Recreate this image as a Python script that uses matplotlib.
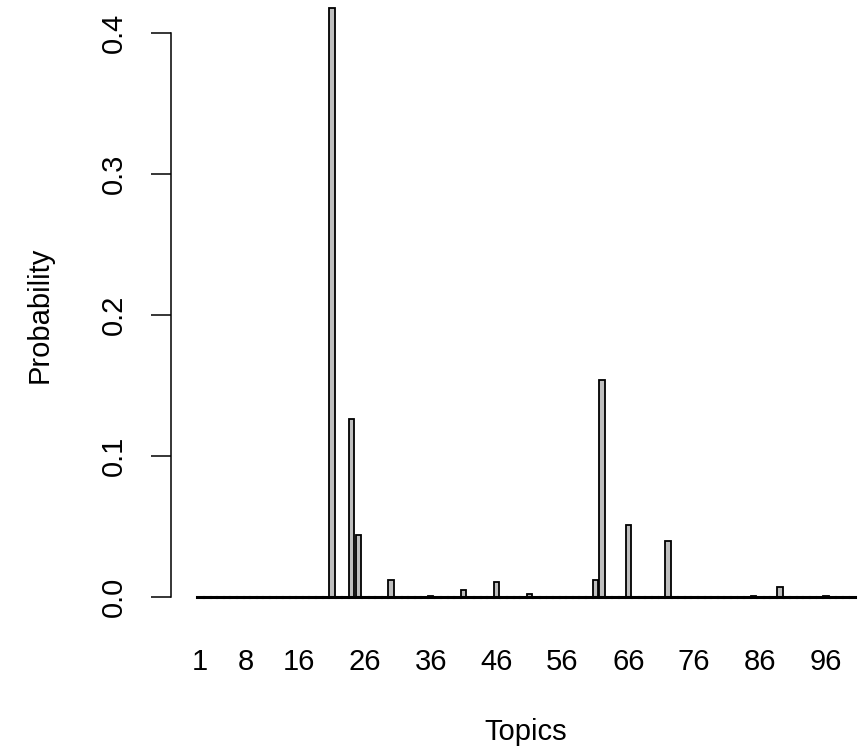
import matplotlib
matplotlib.use("Agg")
import matplotlib.pyplot as plt
import numpy as np

plt.rcParams['font.family'] = ['Liberation Sans', 'DejaVu Sans']

# topic probabilities (topics not listed are ~0)
n_topics = 100
peak_topics = [21, 24, 25, 30, 36, 41, 46, 51, 61, 62, 66, 72, 85, 89, 96]
peak_values = [0.418, 0.126, 0.044, 0.012, 0.001, 0.005, 0.011, 0.002,
               0.012, 0.154, 0.051, 0.040, 0.001, 0.007, 0.001]
shown_labels = [1, 8, 16, 26, 36, 46, 56, 66, 76, 86, 96]

probs = np.zeros(n_topics)
for t, v in zip(peak_topics, peak_values):
    probs[t - 1] = v

# R barplot geometry: width 1, space 0.2
topics = np.arange(1, n_topics + 1)
centers = 1.2 * topics - 0.5

W, H = 861, 753
fig = plt.figure(figsize=(W / 100, H / 100), dpi=100)

# plot region in pixels (R extends the range by 4% each side; image is cropped)
left_px, right_px = 171.2, 881.3
bottom_px, top_px = 620.6, -16.0
ax = fig.add_axes([left_px / W, (H - bottom_px) / H,
                   (right_px - left_px) / W, (bottom_px - top_px) / H])

ax.bar(centers, probs, width=1.0, color='#BEBEBE', edgecolor='black',
       linewidth=1.3)
# near-zero bars show up as a flat outline along the base
base = ax.hlines(np.zeros(n_topics), centers - 0.5, centers + 0.5,
                 color='black', linewidth=2.2, zorder=3)
base.set_capstyle('projecting')

xr = (0.2, 120.0)
dx = 0.04 * (xr[1] - xr[0])
ax.set_xlim(xr[0] - dx, xr[1] + dx)
ymax = probs.max()
ax.set_ylim(-0.04 * ymax, ymax * 1.04)

for s in ['top', 'right', 'bottom']:
    ax.spines[s].set_visible(False)
ax.spines['left'].set_bounds(0, 0.4)
ax.spines['left'].set_linewidth(1.1)

ax.set_yticks([0.0, 0.1, 0.2, 0.3, 0.4])
ax.set_yticklabels(['0.0', '0.1', '0.2', '0.3', '0.4'], rotation=90,
                   va='center', fontsize=21)
ax.tick_params(axis='y', length=14.5, width=1.1, pad=17)

ax.set_xticks(1.2 * np.array(shown_labels) - 0.5)
ax.set_xticklabels([str(v) for v in shown_labels], fontsize=21)
ax.tick_params(axis='x', length=0, pad=20)

fig.text(526 / W, 1 - 732 / H, 'Topics', ha='center', va='center', fontsize=21)
fig.text(40 / W, 1 - 315 / H, 'Probability', ha='center', va='center',
         rotation=90, fontsize=21)

fig.savefig('out.png', dpi=100)
